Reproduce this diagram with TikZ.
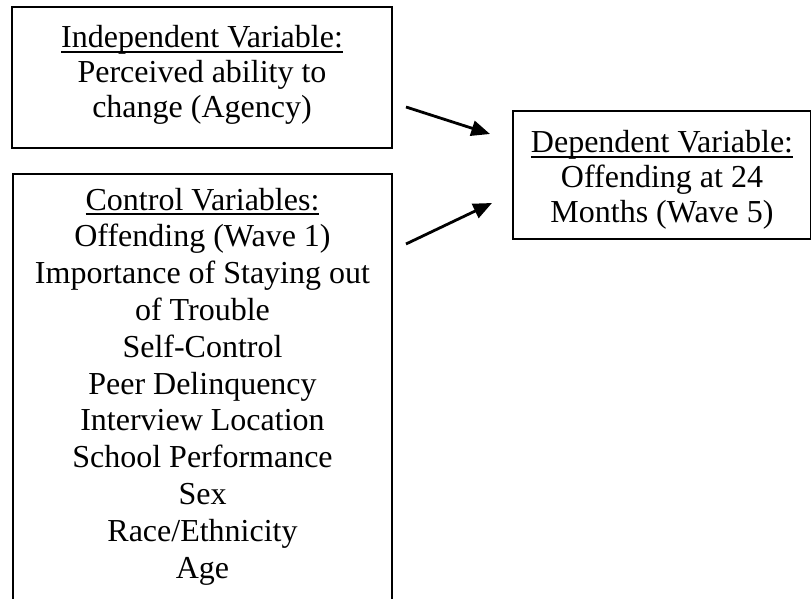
\documentclass[tikz,border=0pt]{standalone}
\usepackage{fontspec}
\setmainfont{Liberation Serif}
\usetikzlibrary{arrows.meta}
\lineskiplimit=-100pt
\newcommand\myul[1]{\setbox0\hbox{#1}\rlap{\rule[-3.4pt]{\wd0}{1.1pt}}\box0}
\newcommand\topstrut[1]{\rule{0pt}{#1}}
\newcommand\botstrut[1]{\rule[-#1]{0pt}{0pt}}
\begin{document}
\begin{tikzpicture}[x=0.75pt,y=-0.75pt,
  varbox/.style={draw, line width=1.5pt, inner ysep=0pt, inner xsep=0pt, outer sep=0pt,
    align=center, anchor=north west, font=\fontsize{24pt}{26.25pt}\selectfont},
  ctrlfont/.style={font=\fontsize{24pt}{27.6pt}\selectfont},
  link/.style={line width=2.1pt, -{Triangle[length=14pt,width=11.5pt]}}]
\path[use as bounding box] (0,0) rectangle (811,599);
\clip (0,0) rectangle (811,599);
\node[varbox, minimum width=285pt] (ind) at (12,7)
  {\topstrut{30.75pt}\myul{Independent Variable:}\\
   Perceived ability to\\
   change (Agency)\botstrut{22.5pt}};
\node[varbox, ctrlfont, minimum width=284.25pt] (ctrl) at (13,174)
  {\topstrut{27pt}\myul{Control Variables:}\\
   Offending (Wave 1)\\
   Importance of Staying out\\
   of Trouble\\
   Self-Control\\
   Peer Delinquency\\
   Interview Location\\
   School Performance\\
   Sex\\
   Race/Ethnicity\\
   Age\botstrut{30pt}};
\node[varbox, minimum width=223.5pt] (dep) at (513,111)
  {\topstrut{31.5pt}\myul{Dependent Variable:}\\
   Offending at 24\\
   Months (Wave 5)\botstrut{12pt}};
\coordinate (s1) at (406,107);
\coordinate (e1) at (490,134);
\coordinate (s2) at (406,244);
\coordinate (e2) at (492,203);
\draw[link] (s1) -- (e1);
\draw[link] (s2) -- (e2);
\end{tikzpicture}
\end{document}
